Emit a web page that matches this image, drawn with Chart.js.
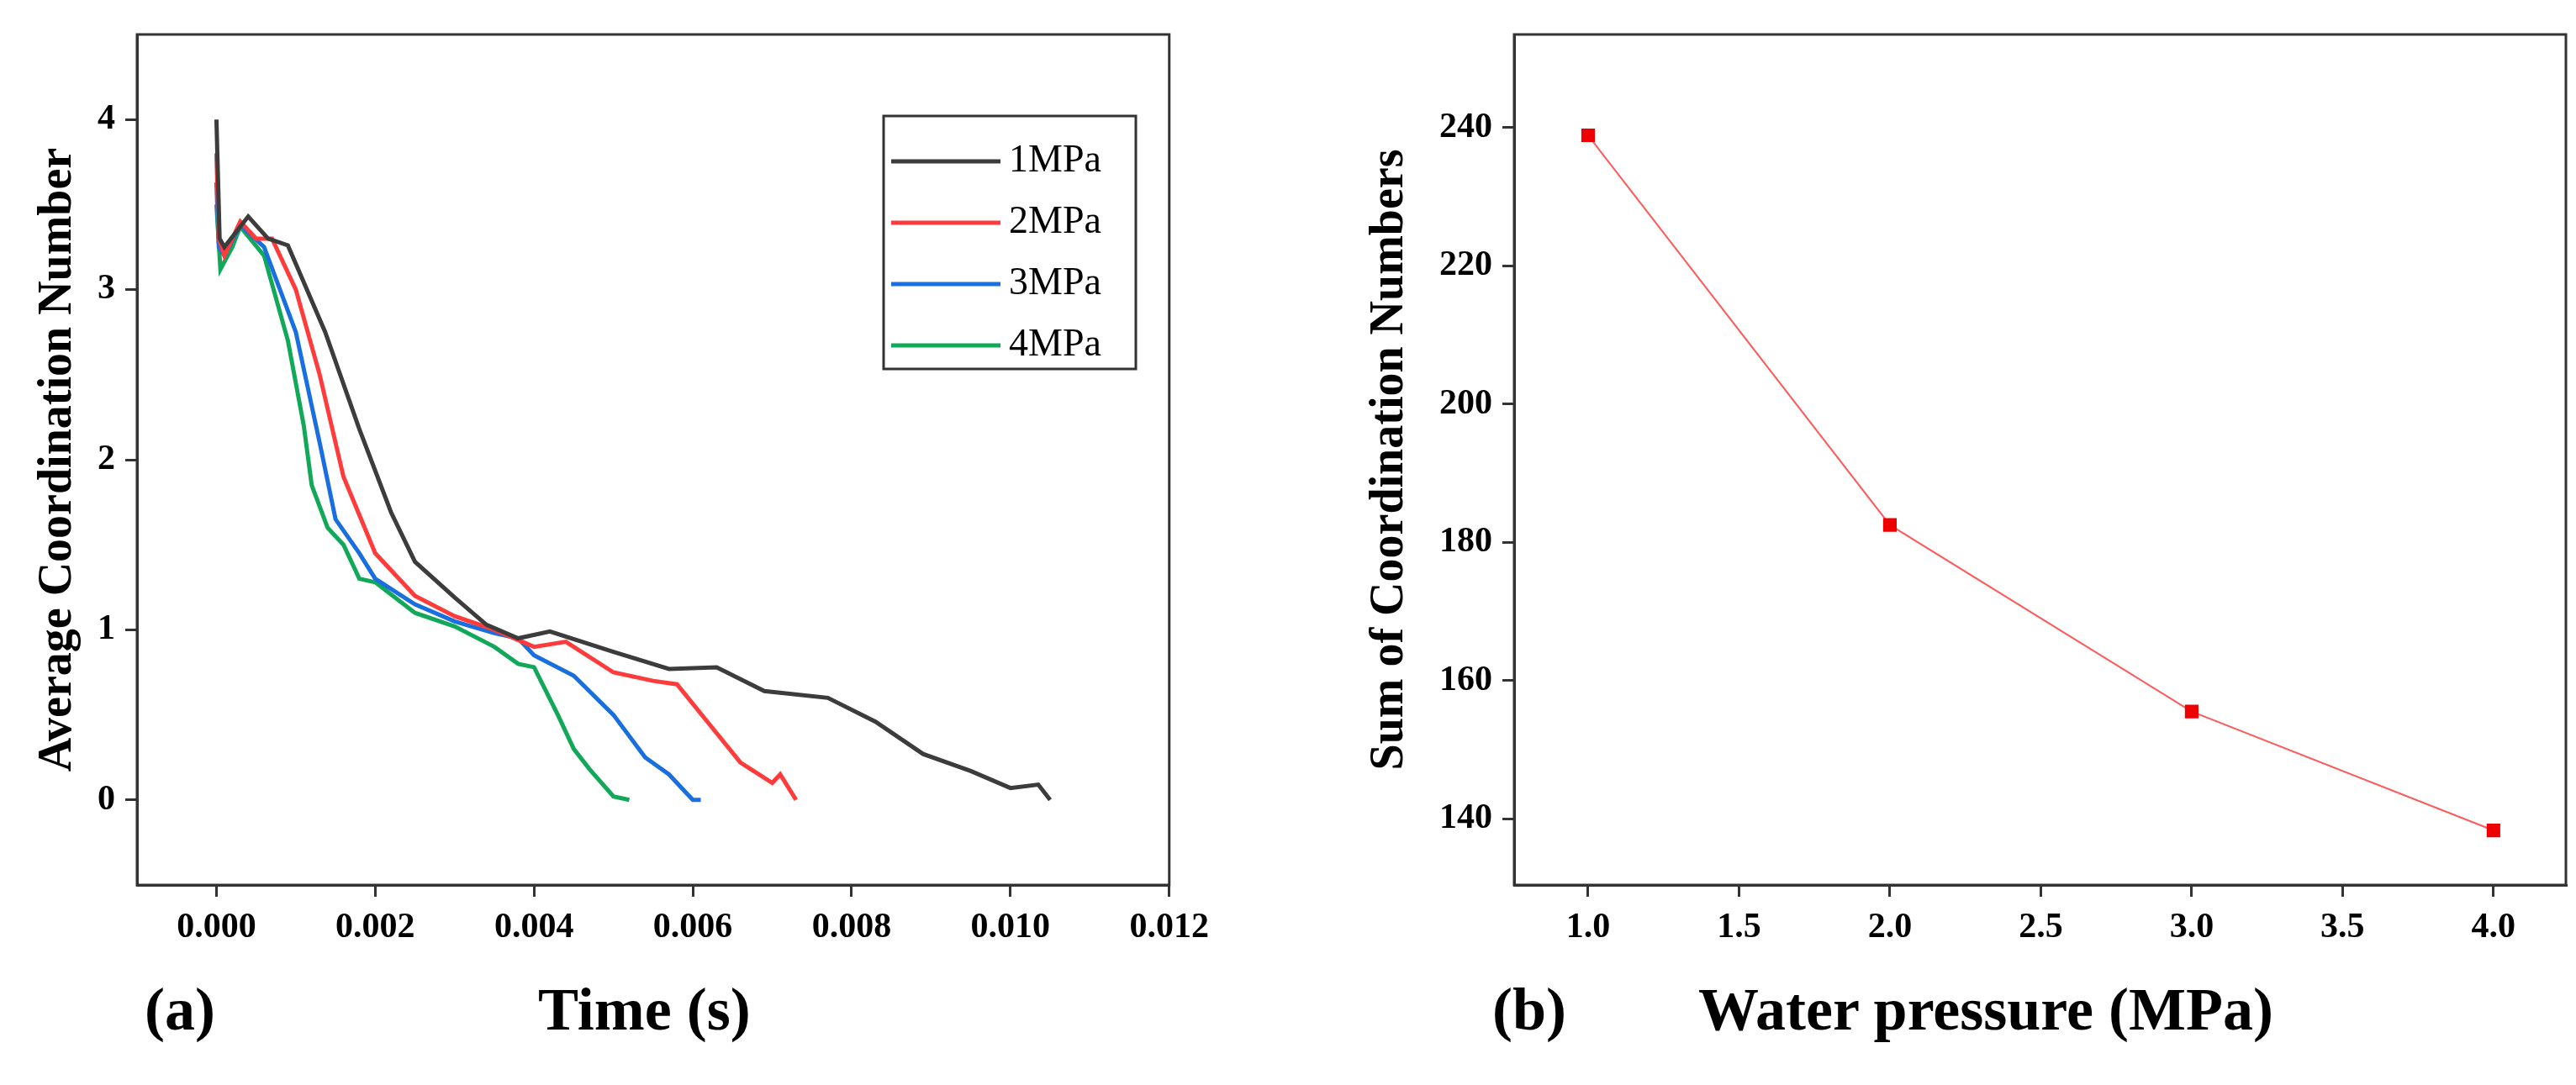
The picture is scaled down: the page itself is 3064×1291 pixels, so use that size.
<!DOCTYPE html>
<html><head><meta charset="utf-8">
<script src="https://cdn.jsdelivr.net/npm/chart.js@4"></script>
<style>
body{margin:0;width:3064px;height:1291px;background:#fff;position:relative;overflow:hidden;font-family:"Liberation Serif",serif;font-weight:bold}
canvas{position:absolute;top:0}
.lbl{position:absolute;font-size:72px;white-space:nowrap}
</style></head><body>
<canvas id="ca" style="left:0" width="1450" height="1291"></canvas>
<canvas id="cb" style="left:1500px" width="1564" height="1291"></canvas>
<div class="lbl" style="left:172px;top:1160px">(a)</div>
<div class="lbl" style="left:640px;top:1160px">Time (s)</div>
<div class="lbl" style="left:1775px;top:1160px">(b)</div>
<div class="lbl" style="left:2020px;top:1160px">Water pressure (MPa)</div>
<script>
// panel (a): average coordination number vs time
const t1 = [0,0.00004,0.0001,0.0004,0.00065,0.0009,0.00137,0.0018,0.0022,0.0025,0.003,0.0034,0.0038,0.0042,0.005,0.0057,0.0063,0.0069,0.0077,0.0083,0.0089,0.0095,0.01,0.01035,0.0105];
const v1 = [4.0,3.3,3.25,3.43,3.3,3.26,2.75,2.18,1.69,1.4,1.19,1.03,0.95,0.99,0.87,0.77,0.78,0.64,0.6,0.46,0.27,0.17,0.07,0.09,0];
const t2 = [0,0.00003,0.0001,0.0003,0.0005,0.0007,0.001,0.0013,0.0016,0.002,0.0025,0.003,0.0035,0.004,0.0044,0.005,0.0055,0.0058,0.0062,0.0066,0.007,0.0071,0.0073];
const v2 = [3.8,3.3,3.2,3.4,3.3,3.3,3.0,2.5,1.9,1.45,1.2,1.08,1.0,0.9,0.93,0.75,0.7,0.68,0.45,0.22,0.1,0.15,0];
const t3 = [0,0.00003,0.0001,0.0003,0.0006,0.001,0.0013,0.0015,0.0018,0.002,0.0025,0.003,0.0035,0.0038,0.004,0.0045,0.005,0.0054,0.0057,0.0059,0.006,0.0061];
const v3 = [3.63,3.25,3.2,3.38,3.25,2.75,2.1,1.65,1.45,1.3,1.15,1.05,0.98,0.95,0.85,0.73,0.5,0.25,0.15,0.05,0,0];
const t4 = [0,0.00005,0.0002,0.0003,0.0006,0.0009,0.0011,0.0012,0.0014,0.0016,0.0018,0.002,0.0025,0.003,0.0035,0.0038,0.004,0.0043,0.0045,0.0047,0.005,0.0052];
const v4 = [3.5,3.12,3.25,3.37,3.2,2.7,2.2,1.85,1.6,1.5,1.3,1.28,1.1,1.02,0.9,0.8,0.78,0.5,0.3,0.18,0.02,0];
const seriesNames = ['1MPa','2MPa','3MPa','4MPa'];
const seriesColors = ['#3c3c3c','#ff3b3b','#1a6fe0','#12a85a'];
const xTicksA = [0,0.002,0.004,0.006,0.008,0.01,0.012];
const yTicksA = [0,1,2,3,4];

// panel (b): sum of coordination numbers vs water pressure
const pressure = [1,2,3,4];
const sumCN = [238.9,182.5,155.5,138.3];
const xTicksB = [1,1.5,2,2.5,3,3.5,4];
const yTicksB = [140,160,180,200,220,240];

const tickFont = {family:'Liberation Serif', size:42, weight:'bold'};
const titleFont = {family:'Liberation Serif', size:56, weight:'bold'};
const frame = {id:'frame', afterDraw(c){const a=c.chartArea,x=c.ctx;x.save();x.strokeStyle='#333';x.lineWidth=3;x.strokeRect(a.left,a.top,a.right-a.left,a.bottom-a.top);x.restore();}};
const legendBox = {id:'legendBox', afterDraw(c){
  const x=c.ctx; x.save();
  x.fillStyle='#fff'; x.fillRect(1051,138,300,301);
  x.strokeStyle='#333'; x.lineWidth=3; x.strokeRect(1051,138,300,301);
  x.font='46px "Liberation Serif"'; x.textBaseline='middle';
  c.data.datasets.forEach((d,i)=>{const y=192+i*73;
    x.strokeStyle=d.borderColor; x.lineWidth=5; x.beginPath(); x.moveTo(1060,y); x.lineTo(1190,y); x.stroke();
    x.fillStyle='#000'; x.fillText(d.label,1200,y);});
  x.restore();}};

function scaleCfg(min,max,ticks,fmt,extra){
  return Object.assign({type:'linear',min:min,max:max,
    grid:{drawOnChartArea:false,drawTicks:true,tickLength:14,color:'#333',lineWidth:3},
    border:{color:'#333',width:3},
    afterBuildTicks:s=>{s.ticks=ticks.map(v=>({value:v}));},
    ticks:{color:'#000',font:tickFont,padding:12,autoSkip:false,maxRotation:0,callback:fmt}},extra||{});
}
function pts(xs,ys){return xs.map((x,i)=>({x:x,y:ys[i]}));}

new Chart(document.getElementById('ca'),{
  type:'line',
  data:{datasets:[[t1,v1],[t2,v2],[t3,v3],[t4,v4]].map((s,i)=>({label:seriesNames[i],data:pts(s[0],s[1]),borderColor:seriesColors[i],borderWidth:5,pointRadius:0,tension:0}))},
  options:{responsive:false,animation:false,layout:{padding:{top:41,right:32,left:0,bottom:0}},
    plugins:{legend:{display:false},tooltip:{enabled:false}},
    scales:{
      x:scaleCfg(-0.001,0.012,xTicksA,v=>v.toFixed(3),{afterFit:s=>{s.height=238;}}),
      y:scaleCfg(-0.5,4.5,yTicksA,v=>String(v),{afterFit:s=>{s.width=163;},
        title:{display:true,text:'Average Coordination Number',color:'#000',font:titleFont,padding:{top:36}}})
    }},
  plugins:[frame,legendBox]
});

new Chart(document.getElementById('cb'),{
  type:'line',
  data:{datasets:[{data:pts(pressure,sumCN),borderColor:'#ff5a5a',borderWidth:2,pointStyle:'rect',pointRadius:10,pointBackgroundColor:'#ee0000',pointBorderColor:'#ee0000',tension:0}]},
  options:{responsive:false,animation:false,layout:{padding:{top:41,right:10,left:0,bottom:0}},
    plugins:{legend:{display:false},tooltip:{enabled:false}},
    scales:{
      x:scaleCfg(0.755,4.24,xTicksB,v=>v.toFixed(1),{afterFit:s=>{s.height=238;}}),
      y:scaleCfg(130.4,253.5,yTicksB,v=>String(v),{afterFit:s=>{s.width=301;},
        title:{display:true,text:'Sum of Coordination Numbers',color:'#000',font:titleFont,padding:{top:120}}})
    }},
  plugins:[frame]
});
</script></body></html>
